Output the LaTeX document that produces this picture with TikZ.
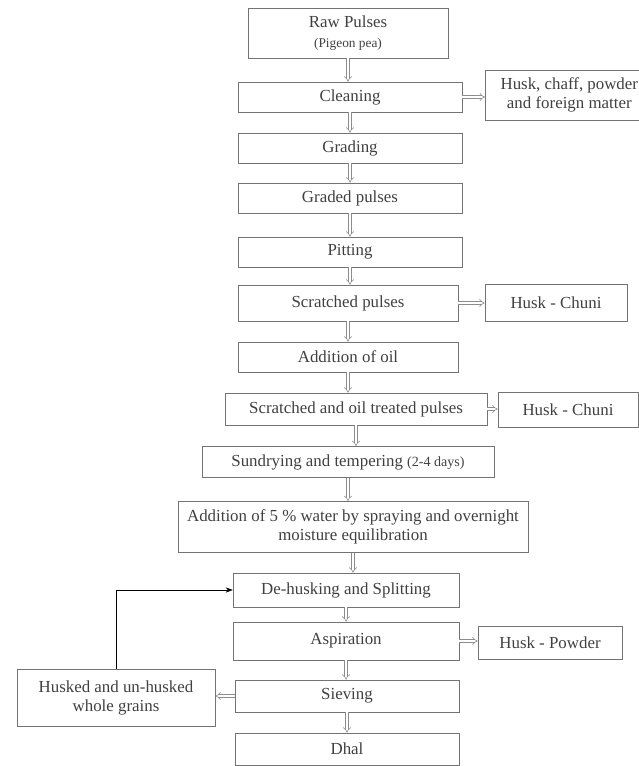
\documentclass[tikz,border=0pt]{standalone}
\usepackage{fontspec}
\setmainfont{Liberation Serif}
\usetikzlibrary{arrows.meta}
\begin{document}
\begin{tikzpicture}[x=0.025cm,y=-0.025cm,
    box/.style={draw=black!55, text=black!75, align=center, inner sep=2pt,
                font=\fontsize{12}{14}\selectfont},
    dbl/.style={draw=black!45, double, double distance=1.6pt, -{Implies}},
    back/.style={draw=black, thin, -{Stealth[length=5pt]}}]
    \useasboundingbox (0,0) rectangle (638,766);
    % main line
    \node[box, minimum width=5cm,    minimum height=1.25cm] (raw)   at (348,33)  {Raw Pulses\\{\fontsize{9.5}{11}\selectfont (Pigeon pea)}};
    \node[box, minimum width=5.6cm,  minimum height=0.75cm] (clean) at (350,97)  {Cleaning};
    \node[box, minimum width=5.6cm,  minimum height=0.75cm] (grade) at (350,148) {Grading};
    \node[box, minimum width=5.6cm,  minimum height=0.75cm] (gpuls) at (350,198) {Graded pulses};
    \node[box, minimum width=5.6cm,  minimum height=0.75cm] (pitt)  at (350,252) {Pitting};
    \node[box, minimum width=5.5cm,  minimum height=0.9cm]  (scrat) at (348,303) {Scratched pulses};
    \node[box, minimum width=5.5cm,  minimum height=0.75cm] (oil)   at (348,357) {Addition of oil};
    \node[box, minimum width=6.55cm, minimum height=0.8cm]  (soil)  at (356,409) {Scratched and oil treated pulses};
    \node[box, minimum width=7.3cm,  minimum height=0.78cm] (sun)   at (348,462) {Sundrying and tempering {\fontsize{10}{12}\selectfont(2-4 days)}};
    \node[box, minimum width=8.75cm, minimum height=1.28cm] (water) at (353,527) {Addition of 5 \% water by spraying and overnight\\moisture equilibration};
    \node[box, minimum width=5.65cm, minimum height=0.85cm] (dehus) at (346,590) {De-husking and Splitting};
    \node[box, minimum width=5.65cm, minimum height=0.95cm] (aspir) at (346,641) {Aspiration};
    \node[box, minimum width=5.6cm,  minimum height=0.8cm]  (siev)  at (347,696) {Sieving};
    \node[box, minimum width=5.6cm,  minimum height=0.8cm]  (dhal)  at (347,749) {Dhal};
    % side products
    \node[box, minimum width=4.2cm,  minimum height=1.25cm, anchor=west] (husk1) at (485,95)  {Husk, chaff, powder\\and foreign matter};
    \node[box, minimum width=3.55cm, minimum height=0.92cm] (husk2) at (556,303) {Husk - Chuni};
    \node[box, minimum width=3.5cm,  minimum height=0.88cm] (husk3) at (568,410) {Husk - Chuni};
    \node[box, minimum width=3.6cm,  minimum height=0.83cm] (husk4) at (550,643) {Husk - Powder};
    \node[box, minimum width=4.95cm, minimum height=1.42cm] (whole) at (116,698) {Husked and un-husked\\whole grains};
    % arrows
    \foreach \a/\b in {raw/clean,clean/grade,grade/gpuls,gpuls/pitt,pitt/scrat,scrat/oil,oil/soil,
                       soil/sun,sun/water,water/dehus,dehus/aspir,aspir/siev,siev/dhal}
        \draw[dbl] (\a.south) -- (\a.south |- \b.north);
    \draw[dbl] (clean.east) -- (clean.east -| husk1.west);
    \draw[dbl] (scrat.east) -- (scrat.east -| husk2.west);
    \draw[dbl] (soil.east)  -- (soil.east -| husk3.west);
    \draw[dbl] (aspir.east) -- (aspir.east -| husk4.west);
    \draw[dbl] (siev.west)  -- (siev.west -| whole.east);
    \draw[back] (whole.north) |- (dehus.west);
\end{tikzpicture}
\end{document}
